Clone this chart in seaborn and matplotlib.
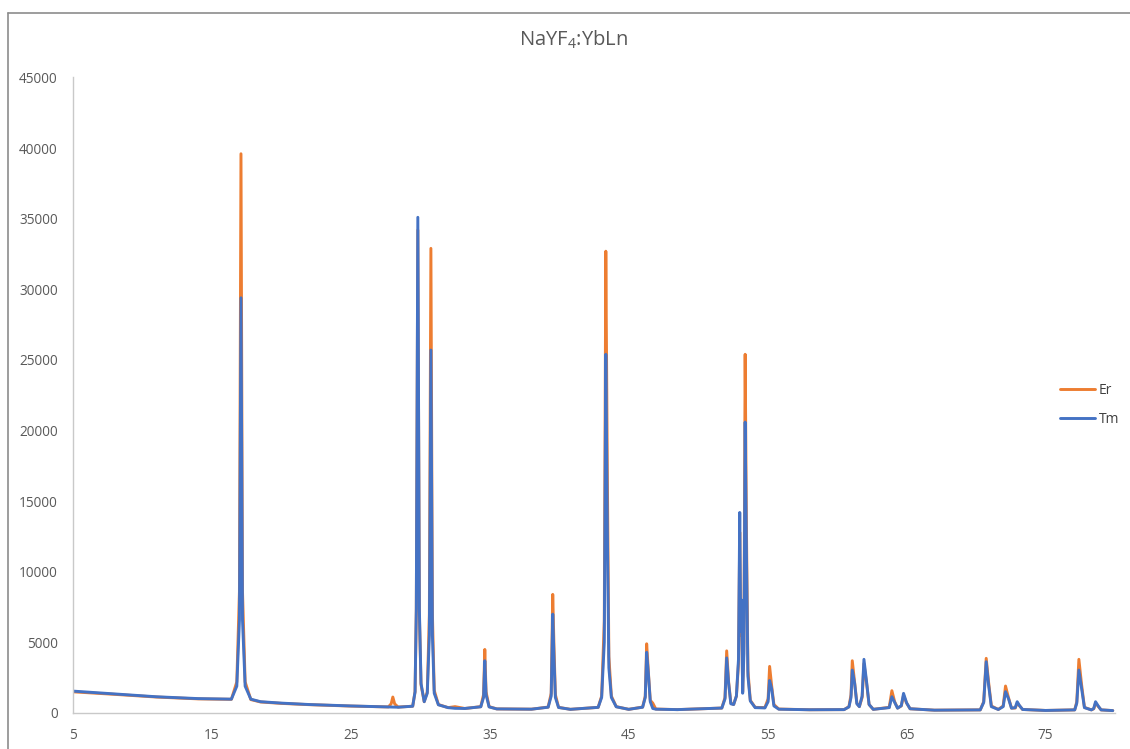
import matplotlib
matplotlib.use("Agg")
import matplotlib.pyplot as plt
from matplotlib.lines import Line2D
import seaborn as sns
import pandas as pd

# ---- data ----
series_names = ["Er", "Tm"]
series_colors = ["#ED7D31", "#4472C4"]
x_ticks = [5, 15, 25, 35, 45, 55, 65, 75]
y_ticks = [0, 5000, 10000, 15000, 20000, 25000, 30000, 35000, 40000, 45000]

two_theta = [
    5.0, 8.0, 11.0, 14.0, 16.4, 16.79, 16.98, 17.09, 17.2, 17.39, 17.8, 18.5, 20.0, 22.0, 25.0,
    27.7, 27.9, 28.02, 28.15, 28.4,
    29.45, 29.62, 29.71, 29.82, 29.93, 30.05, 30.28, 30.5, 30.65, 30.76, 30.87, 31.0, 31.3, 32.0, 32.5, 33.2,
    34.35, 34.55, 34.64, 34.73, 34.95, 35.5, 38.0,
    39.2, 39.42, 39.53, 39.62, 39.72, 39.95, 40.8,
    42.8, 43.05, 43.24, 43.35, 43.46, 43.57, 43.75, 44.1, 45.0,
    46.0, 46.19, 46.29, 46.42, 46.55, 46.73, 46.95, 48.5,
    51.7, 51.93, 52.05, 52.19, 52.35, 52.55, 52.75, 52.9, 52.99, 53.06, 53.12, 53.2, 53.29, 53.38, 53.47,
    53.58, 53.75, 54.1,
    54.8, 55.03, 55.14, 55.29, 55.45, 55.8, 58.0, 60.5,
    60.85, 61.0, 61.09, 61.26, 61.42, 61.6, 61.8, 61.93, 62.12, 62.3, 62.6,
    63.75, 63.94, 64.14, 64.35, 64.62, 64.78, 65.0, 65.25, 67.0, 70.3,
    70.55, 70.73, 70.9, 71.1, 71.6,
    71.95, 72.12, 72.34, 72.55, 72.82, 72.96, 73.13, 73.35, 75.0, 77.1,
    77.25, 77.4, 77.59, 77.8, 78.3, 78.47, 78.6, 78.81, 79.0, 79.84,
]

er_counts = [
    1500, 1320, 1130, 1000, 970, 2200, 8600, 39600, 8600, 2200, 950, 780, 680, 590, 490,
    430, 650, 1130, 650, 420,
    480, 1500, 7200, 34200, 7000, 2000, 800, 1500, 7000, 32900, 7000, 1600, 600, 380, 450, 320,
    450, 1300, 4500, 1500, 450, 290, 270,
    420, 1400, 8400, 4700, 1300, 400, 260,
    400, 1200, 6500, 32700, 17000, 4000, 1200, 450, 260,
    420, 1200, 4900, 2800, 900, 700, 280, 240,
    350, 1100, 4400, 2200, 700, 600, 1200, 3500, 12800, 5500, 7500, 1500, 5000, 25400, 13300,
    3000, 900, 400,
    380, 1000, 3300, 1900, 600, 280, 230, 240,
    450, 1300, 3700, 2150, 700, 450, 1100, 3500, 2100, 600, 260,
    400, 1580, 800, 350, 500, 1250, 700, 300, 200, 220,
    800, 3870, 2200, 500, 250,
    500, 1910, 1060, 350, 350, 700, 500, 250, 180, 220,
    800, 3800, 2050, 400, 220, 300, 700, 450, 220, 170,
]

tm_counts = [
    1550, 1350, 1150, 1020, 980, 1900, 6600, 29400, 6600, 1900, 980, 800, 700, 600, 500,
    430, 425, 420, 415, 410,
    480, 1500, 7400, 35100, 7400, 2100, 800, 1400, 5500, 25700, 5500, 1400, 580, 380, 330, 320,
    440, 1100, 3700, 1300, 430, 290, 270,
    410, 1200, 7000, 3900, 1100, 390, 260,
    400, 1100, 5000, 25400, 13000, 3200, 1100, 440, 260,
    410, 1100, 4300, 2700, 800, 320, 270, 240,
    350, 1000, 3900, 2100, 650, 600, 1200, 3800, 14200, 5800, 8000, 1400, 4200, 20600, 11500,
    2600, 850, 380,
    360, 800, 2300, 1700, 500, 270, 230, 240,
    430, 1100, 3040, 2100, 650, 450, 1200, 3800, 2200, 600, 260,
    380, 1150, 750, 340, 520, 1390, 720, 300, 200, 220,
    750, 3630, 2000, 450, 250,
    450, 1510, 1000, 340, 380, 800, 520, 250, 180, 220,
    700, 3040, 1800, 380, 220, 320, 800, 470, 220, 170,
]

df = pd.DataFrame({
    "two_theta": two_theta * 2,
    "intensity": er_counts + tm_counts,
    "sample": [series_names[0]] * len(two_theta) + [series_names[1]] * len(two_theta),
})

# ---- figure ----
sns.set_theme(style="white")
plt.rcParams["font.family"] = ["Open Sans", "DejaVu Sans"]
text_color = "#595959"

W, H = 1130, 749
fig = plt.figure(figsize=(W / 100, H / 100), dpi=100)
ax = fig.add_axes([73 / W, 1 - 713 / H, (1115 - 73) / W, (713 - 77.5) / H])

sns.lineplot(
    data=df, x="two_theta", y="intensity", hue="sample",
    hue_order=series_names, palette=series_colors,
    estimator=None, sort=False, linewidth=2.1, legend=False, ax=ax,
)

ax.set_xlim(5, 80)
ax.set_ylim(0, 45000)
ax.set_xticks(x_ticks)
ax.set_xticklabels([str(v) for v in x_ticks])
ax.set_yticks(y_ticks)
ax.set_yticklabels([str(v) for v in y_ticks])
ax.set_xlabel("")
ax.set_ylabel("")
ax.tick_params(axis="both", length=0, labelsize=9.8, labelcolor=text_color)
ax.tick_params(axis="x", pad=11)
ax.tick_params(axis="y", pad=11)
for side in ["top", "right"]:
    ax.spines[side].set_visible(False)
for side in ["left", "bottom"]:
    ax.spines[side].set_color("#c9c9c9")
    ax.spines[side].set_linewidth(1.0)
ax.grid(False)

# title
fig.text(573 / W, 1 - 40 / H, r"NaYF$_\mathregular{4}$:YbLn", ha="center", va="center",
         fontsize=14.5, color=text_color)

# legend
handles = [Line2D([], [], color=c, linewidth=2.1) for c in series_colors]
fig.legend(handles, series_names, loc="center left",
           bbox_to_anchor=(1060 / W, 1 - 405 / H), frameon=False,
           fontsize=10, labelcolor="#404040", handlelength=2.5, handletextpad=0.3,
           labelspacing=1.0, borderpad=0, borderaxespad=0)

# chart border (partly cropped in the reference)
fig.add_artist(Line2D([8 / W, 1.0], [1 - 13 / H, 1 - 13 / H], color="#8c8c8c", linewidth=1.2,
                      transform=fig.transFigure))
fig.add_artist(Line2D([8 / W, 8 / W], [0.0, 1 - 13 / H], color="#8c8c8c", linewidth=1.2,
                      transform=fig.transFigure))

fig.savefig("out.png", dpi=100, facecolor="white")
